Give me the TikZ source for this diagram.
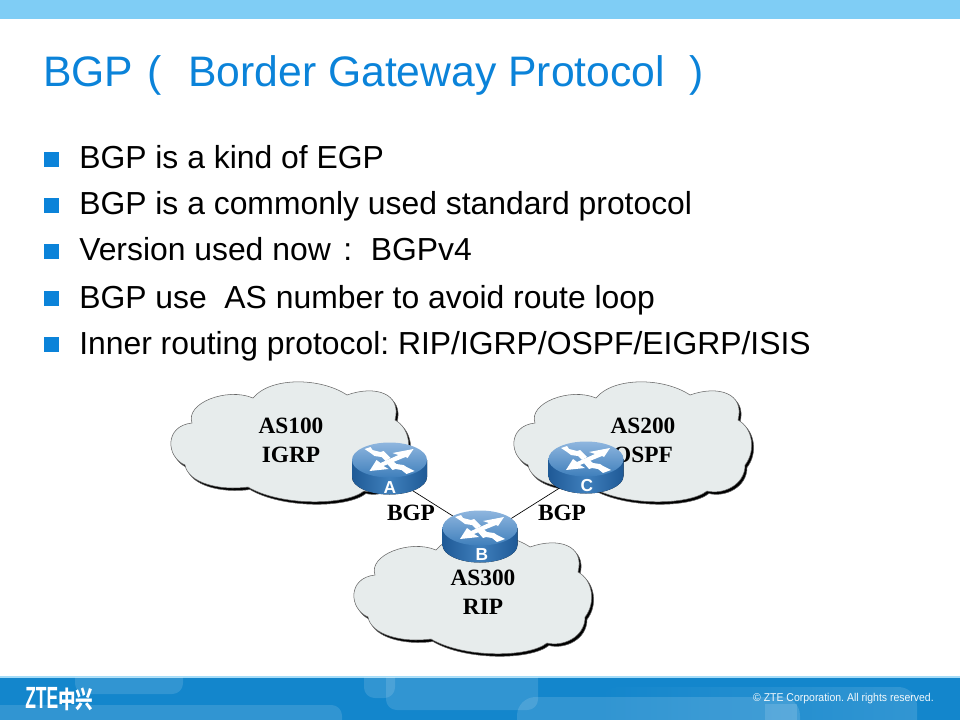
\documentclass[tikz,border=0pt]{standalone}
\usepackage{fontspec}
\usepackage{graphicx}
\setmainfont{Liberation Sans}
\newfontfamily\serifbold{Liberation Serif}
\newfontfamily\cjkfont{Noto Sans CJK SC}
\usetikzlibrary{positioning}
\definecolor{ztetitle}{HTML}{0B83D9}
\definecolor{ztetop}{HTML}{7FCDF5}
\definecolor{ztefoot}{HTML}{1386CC}
\definecolor{cloudfill}{HTML}{E7ECEC}
\definecolor{routerdark}{HTML}{1F5A96}
\definecolor{routertop}{HTML}{8FB6DE}
\definecolor{routerlow}{HTML}{3F7FBC}
\frenchspacing
\tikzset{
%slide text
titletext/.style={anchor=base west, inner sep=0, ztetitle, font=\fontsize{32}{32}\selectfont},
bullet/.style={fill=ztetitle, minimum size=11.25, inner sep=0, outer sep=0},
item/.style={anchor=base west, inner sep=0, font=\fontsize{23.9}{24}\selectfont},
%diagram labels
netlabel/.style={inner sep=0, font=\fontsize{17.5}{17.5}\selectfont\serifbold\bfseries},
routerlabel/.style={inner sep=0, white, font=\fontsize{13}{13}\selectfont\bfseries},
%footer patches
patch/.style={white, fill opacity=0.13, rounded corners=8},
%one cloud, origin at the left end of its box
pics/netcloud/.style={code={
  \foreach \col/\dx/\dy in {black/2/2.5, cloudfill/0/0}{
    \draw[draw=black!60, line width=0.4, fill=\col, shift={(\dx,\dy)}]
      (15,22) .. controls (-4,14) and (-6,-17) .. (22,-20)
      .. controls (15,-40) and (57,-56) .. (83,-45)
      .. controls (100,-66) and (150,-66) .. (177,-48)
      .. controls (205,-58) and (232,-50) .. (225,-23)
      .. controls (240,-15) and (243,8) .. (232,22)
      .. controls (232,42) and (210,52) .. (194,48)
      .. controls (175,63) and (110,63) .. (78,44)
      .. controls (50,48) and (18,40) .. (15,22) -- cycle;
  }
}},
%router body and crossed arrows
pics/router/.style={code={
  \fill[left color=routerdark, right color=routerdark, middle color=routerlow]
    (-37.5,0) -- (-37.5,17) arc[start angle=180, end angle=0, x radius=37.5, y radius=17.5]
    -- (37.5,0) -- cycle;
  \shade[top color=routertop, bottom color=routerlow]
    (0,0) ellipse [x radius=37.5, y radius=17.5];
  \fill[white] (-25,-11) -- (-19,-13) -- (-17,-10) -- (-9,-8) -- (-6,-9) -- (1,-2) -- (-4,1) -- (-8,-3) -- (-15,-4) -- (-19,-7) -- cycle;
  \fill[white] (25,11) -- (17,14) -- (12,10) -- (6,9) -- (3,10) -- (-3,3) -- (2,0) -- (7,4) -- (14,5) -- (17,7) -- cycle;
  \fill[white] (24,-11) -- (3,-7) -- (9,-5) -- (-9,3) -- (-13,0) -- (-20,11) -- (-1,9) -- (-6,6) -- (16,-3) -- (18,-2) -- cycle;
}},
}

\begin{document}
\begin{tikzpicture}[x=0.75pt, y=-0.75pt]
\useasboundingbox (0,0) rectangle (960,720);

% top and bottom bands
\fill[ztetop] (0,0) rectangle (960,19);
\fill[ztefoot] (0,677) rectangle (960,720);
\fill[ztetop!70!white] (0,676) rectangle (960,677.5);

% footer patches
\begin{scope}
\clip (0,677.5) rectangle (960,720);
\shade[left color=ztefoot, right color=white!13!ztefoot, rounded corners=14] (600,687) rectangle (917,760);
\fill[patch] (75,650) rectangle (183,694);
\fill[patch] (-20,705) rectangle (342,760);
\fill[patch] (364,650) rectangle (395,698);
\fill[patch] (386,650) rectangle (538,710);
\fill[patch, rounded corners=14] (517,697) rectangle (800,760);
\fill[patch, rounded corners=0] (765,704) rectangle (797,760);
\end{scope}

% title
\node[titletext] (title) at (43,87) {BGP};
\node[titletext] (titleopen) at (147,87) {(};
\node[titletext] (titlemain) at (188,87) {Border Gateway Protocol};
\node[titletext] (titleclose) at (689,87) {)};

% bullet list
\foreach \ypos/\txt in {169/{BGP is a kind of EGP}, 215/{BGP is a commonly used standard protocol}, 261/{Version used now\hspace{9.5pt}:\hspace{14pt}BGPv4}, 308/{BGP use\ \ AS number to avoid route loop}, 354/{Inner routing protocol: RIP/IGRP/OSPF/EIGRP/ISIS}}{
  \node[bullet] at (51.5,\ypos-9.5) {};
  \node[item] at (79,\ypos) {\txt};
}

% clouds
\pic at (170,443) {netcloud};
\pic at (513,443) {netcloud};
\pic at (353,595) {netcloud};

% network names
\node[netlabel] (as100) at (291,426) {AS100};
\node[netlabel] (igrp) at (291,455) {IGRP};
\node[netlabel] (as200) at (643,426) {AS200};
\node[netlabel] (ospf) at (643,455) {OSPF};
\node[netlabel] (as300) at (483,578) {AS300};
\node[netlabel] (rip) at (483,607) {RIP};

% links between routers
\coordinate (routerA) at (389.5,460);
\coordinate (routerB) at (480,528);
\coordinate (routerC) at (586,459);
\coordinate (portA) at (410,489);
\coordinate (portBleft) at (456,518);
\coordinate (portBright) at (508,520.5);
\coordinate (portC) at (562,486.5);
\draw[line width=0.5] (portA) -- (portBleft);
\draw[line width=0.5] (portC) -- (portBright);

% routers
\pic at (routerA) {router};
\pic at (routerB) {router};
\pic at (routerC) {router};
\node[routerlabel] (labelA) at (390,488) {A};
\node[routerlabel] (labelB) at (482,555) {B};
\node[routerlabel] (labelC) at (587,486) {C};

\node[netlabel] (bgpleft) at (411,513) {BGP};
\node[netlabel] (bgpright) at (562,513) {BGP};

% footer text
\node[anchor=west, inner sep=0, white] (logo) at (25,699) {\scalebox{0.57}[1]{\fontsize{23}{23}\selectfont\bfseries ZTE}\scalebox{0.73}[1]{\fontsize{18}{18}\selectfont\cjkfont\bfseries 中兴}};
\node[anchor=east, inner sep=0, white!95!ztefoot] (copyright) at (934,699) {\scalebox{0.924}[1]{\fontsize{8.5}{8.5}\selectfont © ZTE Corporation. All rights reserved.}};

\end{tikzpicture}
\end{document}
